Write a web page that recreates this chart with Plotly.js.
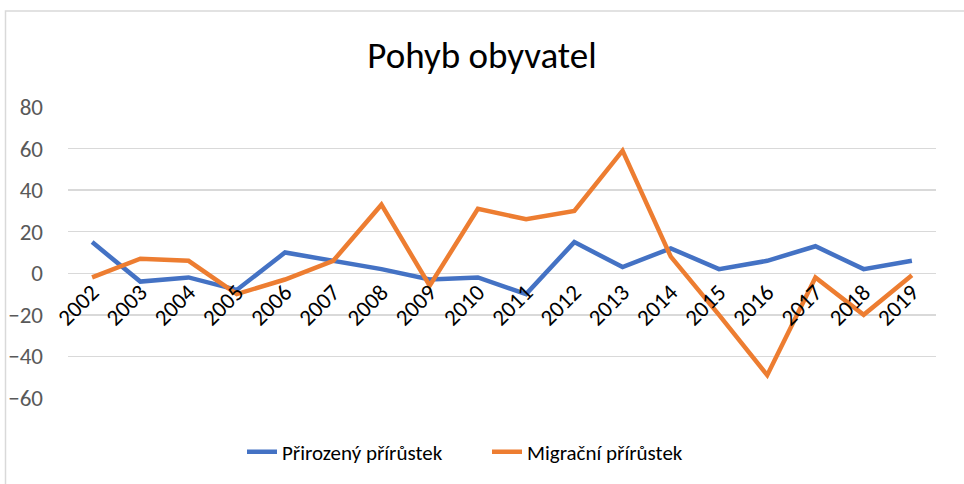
<!DOCTYPE html>
<html>
<head>
<meta charset="utf-8">
<script src="https://cdn.plot.ly/plotly-3.0.1.min.js"></script>
<style>html,body{margin:0;padding:0;background:#fff;}#chart{width:964px;height:484px;}</style>
</head>
<body>
<div id="chart"></div>
<script>
const years = ["2002","2003","2004","2005","2006","2007","2008","2009","2010","2011","2012","2013","2014","2015","2016","2017","2018","2019"];
const prirozeny = [15, -4, -2, -8, 10, 6, 2, -3, -2, -10, 15, 3, 12, 2, 6, 13, 2, 6];
const migracni = [-2, 7, 6, -10, -3, 6, 33, -6, 31, 26, 30, 59, 8, -20, -49, -2, -20, -1];
const seriesNames = ["Přirozený přírůstek", "Migrační přírůstek"];
const yMin = -60, yMax = 80;

const font = "Calibri, Carlito, Lato, sans-serif";
const traces = [
  {x: years, y: prirozeny, name: seriesNames[0], type: "scatter", mode: "lines",
   line: {color: "#4472C4", width: 4.5}},
  {x: years, y: migracni, name: seriesNames[1], type: "scatter", mode: "lines",
   line: {color: "#ED7D31", width: 4.5}}
];
const zeroPos = (0 - yMin) / (yMax - yMin);
const layout = {
  width: 964, height: 484,
  margin: {l: 68, r: 28, t: 107, b: 86},
  paper_bgcolor: "#fff", plot_bgcolor: "#fff",
  showlegend: true,
  title: {text: "Pohyb obyvatel", font: {family: font, size: 37, color: "#000"},
          x: 0.5, xanchor: "center", y: 1 - 55/484, yanchor: "middle"},
  xaxis: {type: "category", anchor: "free", position: zeroPos, range: [-0.5, 17.5],
          showgrid: false, showline: false, zeroline: false, ticks: "",
          tickangle: -45, tickfont: {family: font, size: 23, color: "#000"}},
  yaxis: {range: [yMin, yMax], dtick: 20, tick0: 0, showgrid: true, gridcolor: "#d9d9d9", gridwidth: 1.5,
          zeroline: true, zerolinecolor: "#d9d9d9", zerolinewidth: 1.5, showline: false, ticks: "",
          ticklabelstandoff: 24,
          tickfont: {family: font, size: 23, color: "#595959"}},
  legend: {orientation: "h", x: (242-68)/868, xanchor: "left", y: (398-452)/291, yanchor: "middle",
           font: {family: font, size: 21, color: "#000"}, entrywidth: 200, entrywidthmode: "pixels",
           tracegroupgap: 0},
  shapes: [{type: "rect", xref: "paper", yref: "paper",
            x0: (5.5-68)/868, x1: 1.2, y0: -0.5, y1: (398-11)/291,
            line: {color: "#d9d9d9", width: 1.5}}]
};
Plotly.newPlot("chart", traces, layout, {displayModeBar: false, staticPlot: true});
</script>
</body>
</html>
